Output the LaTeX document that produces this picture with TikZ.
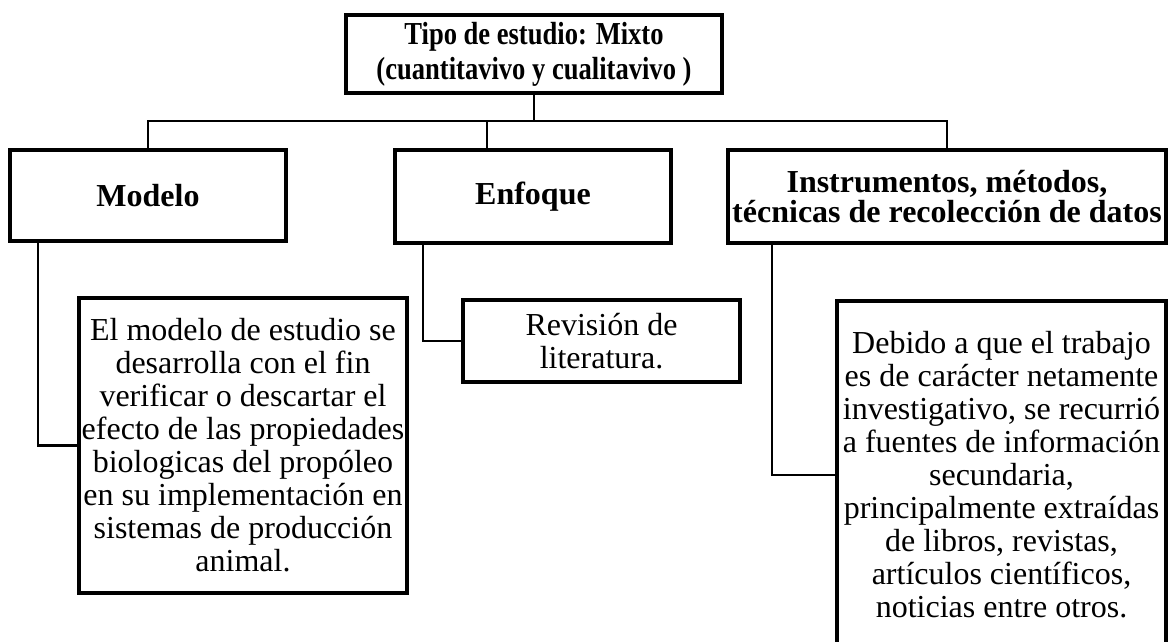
\documentclass[tikz,border=0pt]{standalone}
\usepackage{fontspec}
\setmainfont{Liberation Serif}
\newfontfamily\condserif[FakeStretch=0.83]{Liberation Serif}
\begin{document}
\begin{tikzpicture}[x=1pt,y=-1pt,
  box/.style={draw=black, line width=3.6pt, anchor=north west, inner sep=0pt, outer sep=0pt,
    align=center, font=\fontsize{32}{33}\selectfont},
  hbox/.style={box, font=\fontsize{32}{30}\selectfont\bfseries},
  conn/.style={draw=black, line width=2.6pt}]
\clip (0,0) rectangle (1168,642);
\fill[white] (0,0) rectangle (1168,642);

\node[box, font=\condserif\fontsize{32}{35}\selectfont\bfseries, minimum width=376pt, minimum height=78pt] (top) at (346,15)
  {Tipo de estudio: Mixto\\(cuantitavivo y cualitavivo )};
\node[hbox, minimum width=276pt, minimum height=91pt] (mod) at (10,150) {Modelo};
\node[hbox, minimum width=276pt, minimum height=93pt] (enf) at (395,150) {Enfoque};
\node[hbox, minimum width=438pt, minimum height=93pt] (ins) at (728,150)
  {Instrumentos, métodos,\\técnicas de recolección de datos};

\node[box, minimum width=328pt, minimum height=295pt] (mtext) at (79,298)
  {El modelo de estudio se\\desarrolla con el fin\\verificar o descartar el\\efecto de las propiedades\\biologicas del propóleo\\en su implementación en\\sistemas de producción\\animal.};
\node[box, minimum width=277pt, minimum height=82pt] (rev) at (463,300)
  {Revisión de\\literatura.};
\node[box, minimum width=329pt, minimum height=348pt] (dtext) at (837,301)
  {Debido a que el trabajo\\es de carácter netamente\\investigativo, se recurrió\\a fuentes de información\\secundaria,\\principalmente extraídas\\de libros, revistas,\\artículos científicos,\\noticias entre otros.};

\coordinate (bus) at (0,121);
\draw[conn] (top.south) -- (top.south |- bus);
\draw[conn] (mod.north) -- (mod.north |- bus) -| (ins.north);
\draw[conn] ([xshift=-46pt]enf.north) -- ([xshift=-46pt]enf.north |- bus);

\draw[conn] ([xshift=28pt]mod.south west) |- (mtext.west);
\draw[conn] ([xshift=28pt]enf.south west) |- (rev.west);
\draw[conn] ([xshift=44pt]ins.south west) |- (dtext.west);
\end{tikzpicture}
\end{document}
